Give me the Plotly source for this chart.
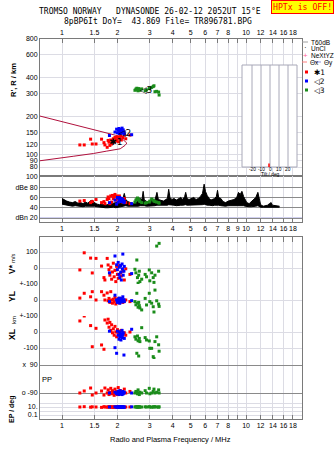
import math
import plotly.graph_objects as go

# ---------------- data ----------------
freq_ticks = [1, 1.5, 2, 3, 4, 5, 6, 7, 8, 9, 10, 12, 14, 16, 18]
freq_labels_edge = ["1", "1.5", "2", "3", "4", "5", "6", "7", "8", "", "10", "12", "14", "16", "18"]
freq_labels_mid = ["1", "1.5", "2", "3", "4", "5", "6", "7", "8", "9", "10", "12", "14", "16", "18"]
height_ticks = [80, 90, 100, 120, 150, 200, 300, 400, 600, 800]

# model profile curve (frequency MHz, height km)
curve_f = [0.759, 0.975, 1.25, 1.75, 1.98, 2.11, 2.20, 2.25, 2.20, 2.07, 1.75, 1.48, 1.15, 0.975, 0.759]
curve_h = [200, 183, 168, 148, 141, 134, 128, 123, 118, 111, 106.5, 102, 97, 94, 89.5]

# noise band in dB panel (frequency MHz, upper / lower dB)
noise_f = [1.00, 1.03, 1.06, 1.10, 1.14, 1.18, 1.22, 1.26, 1.30, 1.34, 1.38, 1.42, 1.46, 1.50, 1.55,
           1.60, 1.66, 1.72, 1.78, 1.84, 1.90, 1.96, 2.02, 2.08, 2.14, 2.18, 2.22, 2.28, 2.36, 2.44,
           2.52, 2.60, 2.66, 2.72, 2.76, 2.80, 2.88, 2.96, 3.04, 3.12, 3.20, 3.28, 3.34, 3.44, 3.56,
           3.66, 3.74, 3.80, 3.86, 3.96, 4.06, 4.18, 4.30, 4.42, 4.54, 4.64, 4.70, 4.78, 4.90, 5.05,
           5.20, 5.35, 5.50, 5.65, 5.80, 5.92, 6.02, 6.15, 6.30, 6.45, 6.60, 6.75, 6.90, 7.00, 7.10,
           7.30, 7.50, 7.75, 8.00, 8.30, 8.60, 8.90, 9.10, 9.30, 9.50, 9.70, 9.90, 10.1, 10.4, 10.7,
           11.0, 11.3, 11.6, 11.8, 12.0, 12.4, 12.8, 13.1, 13.4, 13.7, 13.9, 14.3, 14.8, 15.2]
noise_hi = [58, 55, 53, 51, 50, 52, 49, 50, 48, 51, 49, 53, 55, 50, 47,
            46, 47, 45, 46, 47, 48, 50, 52, 55, 58, 68, 56, 52, 50, 48,
            50, 54, 58, 56, 72, 55, 52, 50, 56, 53, 55, 70, 56, 54, 53,
            56, 58, 76, 60, 56, 58, 55, 57, 60, 56, 62, 70, 58, 56, 58,
            60, 56, 58, 62, 68, 86, 72, 64, 58, 55, 56, 58, 62, 74, 60,
            58, 52, 50, 53, 55, 56, 60, 70, 66, 72, 62, 56, 50, 48, 52,
            56, 60, 70, 58, 46, 43, 44, 45, 48, 50, 45, 44, 43, 43]
noise_lo = [47, 46, 45, 44, 43, 44, 43, 43, 42, 43, 43, 44, 44, 43, 42,
            41, 41, 40, 40, 41, 41, 40, 41, 42, 43, 44, 44, 43, 43, 42,
            42, 43, 44, 44, 45, 44, 43, 43, 44, 44, 44, 45, 45, 44, 44,
            45, 45, 46, 46, 45, 45, 44, 45, 45, 45, 46, 46, 45, 45, 45,
            46, 45, 45, 46, 46, 47, 46, 45, 45, 44, 44, 45, 45, 46, 45,
            44, 43, 43, 44, 44, 44, 45, 45, 45, 45, 44, 43, 42, 42, 42,
            42, 43, 44, 43, 41, 41, 41, 41, 42, 42, 41, 41, 41, 41]

# cluster 1 (red)
red_f = [1.25, 1.32, 1.43, 1.46, 1.53, 1.64, 1.69, 1.71, 1.76, 1.78, 1.80, 1.82, 1.84, 1.86, 1.88,
         1.90, 1.92, 1.94, 1.96, 1.98, 2.00, 2.02, 2.05, 2.08, 2.10, 2.14, 2.18, 2.22, 2.34]
red_h = [119, 119, 132, 121, 121, 132, 124, 119, 114, 129, 125, 118, 130, 121, 127,
         133, 125, 136, 128, 131, 138, 126, 134, 140, 130, 136, 143, 133, 142]
red_db = [53, 54, 50, 52, 56, 50, 52, 48, 56, 61, 58, 48, 63, 51, 64,
          58, 62, 66, 55, 63, 60, 57, 63, 52, 56, 51, 58, 50, 48]
red_v = [-12, 95, 62, -31, 60, 12, -60, -75, 60, 19, -10, -45, 5, -70, -25,
         30, -55, -15, -85, 10, -40, -65, 15, -30, -50, -20, -75, -5, -40]
red_yl = [12, 42, 20, 52, 0, 52, 30, 0, 44, -5, 10, -15, 52, 0, -20,
          5, -10, 15, -25, 0, -12, 8, -18, -5, 10, -15, -8, 0, -10]
red_xl = [69, 100, 40, -92, 23, -81, -108, 75, 56, 80, 30, 60, 10, 45, -5,
          20, -20, 35, 0, -30, 15, -10, 5, -25, 10, -15, -5, -20, 0]
red_pp = [-90, -77, -58, -103, -90, -77, -103, -58, -90, -70, -100, -85, -60, -95, -75,
          -90, -105, -65, -90, -80, -100, -55, -90, -75, -95, -85, -65, -90, -80]
red_ep = [10, 12, 9, 11, 10, 8, 12, 10, 9, 11, 10, 12, 9, 10, 11,
          8, 10, 12, 9, 10, 11, 10, 9, 12, 10, 11, 9, 10, 10]

# cluster 2 (blue)
blue_f = [1.81, 1.94, 1.98, 2.00, 2.02, 2.04, 2.05, 2.06, 2.08, 2.09, 2.10, 2.12, 2.13, 2.14, 2.15,
          2.17, 2.18, 2.39]
blue_h = [141, 150, 158, 148, 155, 160, 146, 152, 157, 149, 154, 161, 147, 152, 156, 150, 145, 143]
blue_db = [50, 55, 47, 60, 51, 58, 56, 60, 54, 58, 52, 55, 57, 53, 55, 50, 52, 48]
blue_v = [-30, 75, 20, -10, 35, -40, 5, -60, 15, -25, -75, 25, -5, 87, -45, -20, 10, -35]
blue_yl = [-10, 30, 0, -15, 5, -8, 12, -20, 0, -5, 8, -12, 0, 20, -5, 2, -10, -4]
blue_xl = [5, -98, -133, 5, -20, -45, 0, -30, -10, -50, -25, 10, -35, -15, -5, -144, -40, 17]
blue_pp = [-90, -85, -95, -90, -80, -100, -90, -75, -95, -90, -85, -100, -90, -80, -95, -90, -85, -90]
blue_ep = [10, 11, 9, 10, 12, 10, 9, 11, 10, 10, 12, 9, 10, 11, 10, 9, 10, 11]

# cluster 3 (green)
green_f = [2.49, 2.52, 2.55, 2.57, 2.59, 2.61, 2.63, 2.65, 2.71, 2.83, 2.88, 2.98, 3.00, 3.07, 3.13,
           3.16, 3.20, 3.27, 3.35, 3.37]
green_h = [318, 325, 330, 320, 315, 328, 322, 318, 326, 316, 320, 328, 330, 335, 340,
           345, 310, 312, 308, 292]
green_db = [51, 55, 57, 59, 58, 56, 54, 52, 50, 49, 50, 51, 53, 57, 55, 53, 52, 51, 50, 49]
green_v = [-8, -30, 50, -60, -95, -45, -20, -85, -70, -40, -55, -12, -80, -30, -60,
           -90, -45, 137, -20, 154]
green_yl = [-10, -30, 42, -20, -45, -15, -35, -50, -62, 10, -31, 42, -10, -20, -42,
            -75, 62, -5, -25, -40]
green_xl = [-30, -45, -133, -25, -55, -150, -40, -60, 27, -35, -50, -56, -102, -102, -154,
            -165, -60, -30, -80, -120]
green_pp = [-90, -80, -85, -95, -70, -90, -100, -85, -90, -75, -90, -60, -95, -90, -80,
            -65, -90, -85, -70, -90]
green_ep = [10, 12, 9, 10, 11, 10, 12, 9, 10, 11, 10, 12, 10, 9, 11, 10, 12, 10, 9, 11]

# cluster label positions in height panel
label_text = ["✱1", "◁2", "◁3"]
label_f = [1.96, 2.20, 2.86]
label_h = [123, 146, 316]

# tilt inset labels
tilt_labels = ["-20", "-10", "0", "10", "20"]

# ---------------- layout helpers ----------------
W, H = 335, 451
L, R, T, B = 40, 33, 39, 32
PW, PH = W - L - R, H - T - B


def pxx(px):
    return (px - L) / PW


def pxy(py):
    return (H - B - py) / PH


FONT = "Liberation Sans"
MONO = "DejaVu Sans Mono"
RED, BLUE, GREEN = "#ff0000", "#0000ff", "#1a8c1a"
FRAME = "#7a7a7a"
GRID = "#dcdce4"
DARKGRID = "#8a8a8a"

xr = [math.log10(0.759), math.log10(20.15)]

fig = go.Figure()

# ---- height panel ----
fig.add_trace(go.Scatter(x=curve_f, y=curve_h, mode="lines", line=dict(color="#b0103c", width=1),
                         xaxis="x", yaxis="y", hoverinfo="skip"))
for f, h, c in [(red_f, red_h, RED), (blue_f, blue_h, BLUE), (green_f, green_h, GREEN)]:
    fig.add_trace(go.Scatter(x=f, y=h, mode="markers", marker=dict(symbol="square", size=3, color=c),
                             xaxis="x", yaxis="y"))
fig.add_trace(go.Scatter(x=label_f, y=label_h, mode="text", text=label_text,
                         textfont=dict(family="DejaVu Sans", size=9, color="black"),
                         xaxis="x", yaxis="y"))

# ---- dB panel ----
fig.add_trace(go.Scatter(x=noise_f, y=noise_lo, mode="lines", line=dict(color="black", width=1),
                         xaxis="x2", yaxis="y2"))
fig.add_trace(go.Scatter(x=noise_f, y=noise_hi, mode="lines", line=dict(color="black", width=1),
                         fill="tonexty", fillcolor="black", xaxis="x2", yaxis="y2"))
for f, d, c in [(red_f, red_db, RED), (blue_f, blue_db, BLUE), (green_f, green_db, GREEN)]:
    fig.add_trace(go.Scatter(x=f, y=d, mode="markers", marker=dict(symbol="square", size=3, color=c),
                             xaxis="x2", yaxis="y2"))

# ---- lower panels ----
sets = [(red_f, RED, red_v, red_yl, red_xl, red_pp, red_ep),
        (blue_f, BLUE, blue_v, blue_yl, blue_xl, blue_pp, blue_ep),
        (green_f, GREEN, green_v, green_yl, green_xl, green_pp, green_ep)]
for f, c, v, yl, xl, pp, ep in sets:
    for vals, ya in [(v, "y3"), (yl, "y4"), (xl, "y5"), (pp, "y6"), (ep, "y7")]:
        fig.add_trace(go.Scatter(x=f, y=vals, mode="markers",
                                 marker=dict(symbol="square", size=3, color=c),
                                 xaxis="x3", yaxis=ya))
# dummy for top tick axis of lower panel
fig.add_trace(go.Scatter(x=[1], y=[0], mode="markers", marker=dict(size=1, opacity=0),
                         xaxis="x4", yaxis="y3", hoverinfo="skip"))

tickfont = dict(family=FONT, size=7, color="black")


def xax(**kw):
    d = dict(type="log", range=xr, tickvals=freq_ticks, showgrid=True, gridcolor=GRID, gridwidth=1,
             zeroline=False, ticks="inside", ticklen=4, tickcolor=FRAME, tickfont=tickfont,
             tickangle=0, linecolor=FRAME, linewidth=1, domain=[0, 1])
    d.update(kw)
    return d


def yax(**kw):
    d = dict(showgrid=True, gridcolor=GRID, zeroline=False, showline=True, mirror=True,
             linecolor=FRAME, linewidth=1, ticks="", tickfont=tickfont, anchor="x3")
    d.update(kw)
    return d


layout = dict(
    width=W, height=H, margin=dict(l=L, r=R, t=T, b=B), showlegend=False,
    paper_bgcolor="white", plot_bgcolor="white",
    xaxis=xax(anchor="y", side="top", ticktext=freq_labels_edge, showline=True, mirror=True),
    yaxis=yax(anchor="x", type="log", range=[1.8328, 2.9031], domain=[pxy(176), 1.0],
              tickvals=height_ticks, ticktext=[str(t) for t in height_ticks]),
    xaxis2=xax(anchor="y2", side="bottom", ticktext=freq_labels_mid, showline=True, mirror=True),
    yaxis2=yax(anchor="x2", range=[12.2, 101.9], domain=[pxy(222), pxy(176)],
               tickvals=[20, 40, 60, 80, 100], ticktext=["dBn 20", "40", "60", "dBe 80", "100"],
               gridcolor=DARKGRID),
    xaxis3=xax(anchor="y7", side="bottom", ticktext=freq_labels_edge, showline=True, mirror=False),
    xaxis4=xax(anchor="y3", side="top", overlaying="x3", showticklabels=False, showgrid=False,
               showline=True, ticklen=5),
    yaxis3=yax(range=[-100, 193.75], domain=[pxy(284), pxy(237)],
               tickvals=[-100, 0, 100], ticktext=["", "0", "100"]),
    yaxis4=yax(range=[-100, 100], domain=[pxy(316), pxy(284)],
               tickvals=[-100, 0, 100], ticktext=["", "0", "+-100"]),
    yaxis5=yax(range=[-168.75, 100], domain=[pxy(359), pxy(316)],
               tickvals=[-100, 0, 100], ticktext=["-100", "0", "+-100"]),
    yaxis6=yax(range=[-135, 128.57], domain=[pxy(400), pxy(359)],
               tickvals=[-90, 90], ticktext=["o -90", "x  90"], gridcolor=DARKGRID),
    yaxis7=yax(type="log", range=[-2, 2.75], domain=[0, pxy(400)],
               tickvals=[0.1, 1, 10, 100], ticktext=["0.1", "", "10.", ""]),
)
fig.update_layout(**layout)

shapes = []
annots = []


def ann(text, px, py, size=7.5, xanchor="center", color="black", angle=0, family=FONT, **kw):
    annots.append(dict(text=text, x=pxx(px), y=pxy(py), xref="paper", yref="paper",
                       showarrow=False, xanchor=xanchor, yanchor="middle", textangle=angle,
                       font=dict(family=family, size=size, color=color), **kw))


def line(x0, y0, x1, y1, color, width=1, layer="above"):
    shapes.append(dict(type="line", xref="paper", yref="paper", x0=pxx(x0), y0=pxy(y0),
                       x1=pxx(x1), y1=pxy(y1), line=dict(color=color, width=width), layer=layer))


# blue dBn reference line
shapes.append(dict(type="line", xref="paper", yref="y2", x0=0, x1=1, y0=20, y1=20,
                   line=dict(color="#a0a0e0", width=1), layer="below"))

# tilt inset
shapes.append(dict(type="rect", xref="paper", yref="paper", x0=pxx(242), x1=pxx(297),
                   y0=pxy(167), y1=pxy(65), line=dict(color="#a8a8b8", width=1),
                   fillcolor="white", layer="above"))
for i, xp in enumerate([252, 261, 270, 279, 288]):
    line(xp, 65, xp, 167, "#a8a8b8")
    ann(tilt_labels[i], xp, 169.5, size=4.8)
line(269, 163.5, 269, 167, RED, width=1.5)
ann("Tilt / deg", 270, 174.5, size=4.8)

# titles
ann("TROMSO NORWAY   DYNASONDE 26-02-12 2052UT 15°E", 150, 11.5, size=8, family=MONO)
ann("8pBP6It DoY=  43.869 File= TR896781.BPG", 157.5, 21, size=8, family=MONO)
ann("HPTx is OFF!", 302.5, 7.5, size=8.2, family=MONO, color=RED, bgcolor="#ffff00",
    bordercolor=RED, borderwidth=1, borderpad=1)

# axis labels
ann("<b>R', R / km</b>", 13, 80, size=7.5, angle=-90)
ann("<b>V*</b> <span style='font-size:5.5px'>m/s</span>", 12, 264, size=8.5, angle=-90)
ann("<b>YL</b>", 12, 297, size=8.5, angle=-90)
ann("km", 14, 320, size=6, angle=-90)
ann("<b>XL</b>", 12, 335, size=8.5, angle=-90)
ann("PP", 47, 379, size=7.5)
ann("<b>EP / deg</b>", 12, 409, size=7, angle=-90)
ann("Radio and Plasma Frequency / MHz", 170, 439, size=7.5)

# legend
LS = 6.5
line(302, 42, 308, 42, "#a0a0a0")
ann("T60dB", 309, 42, size=LS, xanchor="left")
ann("·", 305, 48, size=8, xanchor="center")
ann("UnCl", 309, 48.5, size=LS, xanchor="left")
ann("+", 305, 55, size=8, color="#ff6699")
ann("NeXtYZ", 308.5, 55, size=LS, xanchor="left")
line(302, 62, 307, 62, "#ff8080")
ann("Θx", 307.5, 62.5, size=LS, xanchor="left")
line(315, 62, 321, 62, "#9090e0")
ann("Θy", 321.5, 62.5, size=LS, xanchor="left")
for yy, c, t in [(72, RED, "✱1"), (81, BLUE, "◁2"), (90, GREEN, "◁3")]:
    shapes.append(dict(type="rect", xref="paper", yref="paper", x0=pxx(305), x1=pxx(308),
                       y0=pxy(yy + 1.5), y1=pxy(yy - 1.5), line=dict(width=0), fillcolor=c))
    ann(t, 312, yy + 0.5, size=7.5, xanchor="left", family="DejaVu Sans")

fig.update_layout(shapes=shapes, annotations=annots)
fig.write_html("out.html")
